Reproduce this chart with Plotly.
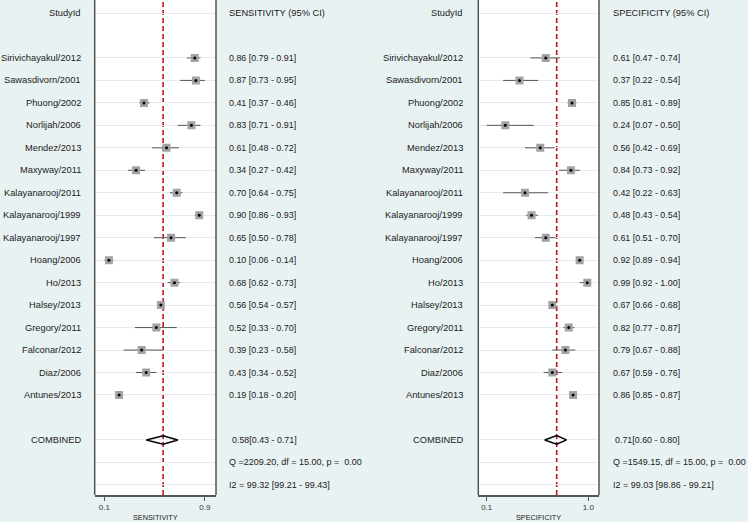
import plotly.graph_objects as go

studies = ["Sirivichayakul/2012", "Sawasdivorn/2001", "Phuong/2002", "Norlijah/2006",
           "Mendez/2013", "Maxyway/2011", "Kalayanarooj/2011", "Kalayanarooj/1999",
           "Kalayanarooj/1997", "Hoang/2006", "Ho/2013", "Halsey/2013", "Gregory/2011",
           "Falconar/2012", "Diaz/2006", "Antunes/2013"]

sens = [0.86, 0.87, 0.41, 0.83, 0.61, 0.34, 0.70, 0.90, 0.65, 0.10, 0.68, 0.56, 0.52, 0.39, 0.43, 0.19]
sens_lo = [0.79, 0.73, 0.37, 0.71, 0.48, 0.27, 0.64, 0.86, 0.50, 0.06, 0.62, 0.54, 0.33, 0.23, 0.34, 0.18]
sens_hi = [0.91, 0.95, 0.46, 0.91, 0.72, 0.42, 0.75, 0.93, 0.78, 0.14, 0.73, 0.57, 0.70, 0.58, 0.52, 0.20]

spec = [0.61, 0.37, 0.85, 0.24, 0.56, 0.84, 0.42, 0.48, 0.61, 0.92, 0.99, 0.67, 0.82, 0.79, 0.67, 0.86]
spec_lo = [0.47, 0.22, 0.81, 0.07, 0.42, 0.73, 0.22, 0.43, 0.51, 0.89, 0.92, 0.66, 0.77, 0.67, 0.59, 0.85]
spec_hi = [0.74, 0.54, 0.89, 0.50, 0.69, 0.92, 0.63, 0.54, 0.70, 0.94, 1.00, 0.68, 0.87, 0.88, 0.76, 0.87]

sens_comb = [0.58, 0.43, 0.71]
spec_comb = [0.71, 0.60, 0.80]
sens_q = "Q =2209.20, df = 15.00, p =\u00a0 0.00"
sens_i2 = "I2 = 99.32 [99.21 - 99.43]"
spec_q = "Q =1549.15, df = 15.00, p =\u00a0 0.00"
spec_i2 = "I2 = 99.03 [98.86 - 99.21]"

BG = "#e9f2f3"
W, H = 748, 522
FONT = "Liberation Sans, Arial, sans-serif"
TXT = "#1a1a1a"
FS = 9.3      # names / headers
FS_NUM = 8.9  # numeric estimate columns
FS_Q = 9.0    # heterogeneity lines

rows = list(range(2, 2 + len(studies)))
row_comb, row_q, row_i2 = 19, 20, 21

fig = go.Figure()

panels = [
    ("x", "y", sens, sens_lo, sens_hi, sens_comb),
    ("x2", "y", spec, spec_lo, spec_hi, spec_comb),
]
for xa, ya, est, lo, hi, comb in panels:
    fig.add_trace(go.Scatter(
        x=est, y=rows, xaxis=xa, yaxis=ya, mode="markers",
        error_x=dict(type="data", symmetric=False,
                     array=[h - e for h, e in zip(hi, est)],
                     arrayminus=[e - l for e, l in zip(est, lo)],
                     color="#555555", thickness=1, width=0),
        marker=dict(symbol="square", size=8, color="#a3a3a3", line=dict(width=0)),
        hoverinfo="skip"))
    fig.add_trace(go.Scatter(
        x=est, y=rows, xaxis=xa, yaxis=ya, mode="markers",
        marker=dict(symbol="circle", size=3, color="black"), hoverinfo="skip"))
    h = 0.19
    fig.add_trace(go.Scatter(
        x=[comb[1], comb[0], comb[2], comb[0], comb[1]],
        y=[row_comb, row_comb - h, row_comb, row_comb + h, row_comb],
        xaxis=xa, yaxis=ya, mode="lines", line=dict(color="black", width=1.5),
        hoverinfo="skip"))

shapes = []
for xa, comb in [("x", sens_comb), ("x2", spec_comb)]:
    shapes.append(dict(type="line", xref=xa, yref="y domain", x0=comb[0], x1=comb[0],
                       y0=0, y1=1, line=dict(color="#c4121f", width=1.6, dash="5px,3px"),
                       layer="below"))
    for xd in (0, 1):
        shapes.append(dict(type="line", xref=xa + " domain", yref="y domain", x0=xd, x1=xd,
                           y0=0, y1=1, line=dict(color="#555555", width=1.5), layer="above"))

annotations = []
def txt(x_px, row, text, anchor, size=FS):
    annotations.append(dict(x=x_px / W, xref="paper", y=row, yref="y", text=text,
                            xanchor=anchor, yanchor="middle", showarrow=False,
                            borderpad=0, borderwidth=0,
                            font=dict(family=FONT, size=size, color=TXT)))

# headers
txt(80.5, 0, "StudyId", "right")
txt(462.5, 0, "StudyId", "right")
txt(229, 0, "SENSITIVITY (95% CI)", "left")
txt(613, 0, "SPECIFICITY (95% CI)", "left")
for r, s, e, l, hh, e2, l2, h2 in zip(rows, studies, sens, sens_lo, sens_hi, spec, spec_lo, spec_hi):
    txt(80.5, r, s, "right")
    txt(462.5, r, s, "right")
    txt(229, r, f"{e:.2f} [{l:.2f} - {hh:.2f}]", "left", FS_NUM)
    txt(613, r, f"{e2:.2f} [{l2:.2f} - {h2:.2f}]", "left", FS_NUM)
txt(80.5, row_comb, "COMBINED", "right")
txt(462.5, row_comb, "COMBINED", "right")
txt(231.5, row_comb, f"{sens_comb[0]:.2f}[{sens_comb[1]:.2f} - {sens_comb[2]:.2f}]", "left", FS_NUM)
txt(615, row_comb, f"{spec_comb[0]:.2f}[{spec_comb[1]:.2f} - {spec_comb[2]:.2f}]", "left", FS_NUM)
txt(229, row_q, sens_q, "left", FS_Q)
txt(229, row_i2, sens_i2, "left", FS_Q)
txt(613, row_q, spec_q, "left", FS_Q)
txt(613, row_i2, spec_i2, "left", FS_Q)

for xa, title in [("x", "SENSITIVITY"), ("x2", "SPECIFICITY")]:
    annotations.append(dict(x=0.5, xref=xa + " domain", y=-(517.5 - 495) / 495, yref="paper",
                            text=title, xanchor="center", yanchor="middle", showarrow=False,
                            borderpad=0, borderwidth=0,
                            font=dict(family=FONT, size=7.3, color=TXT)))

def fmt_ticks(lo, hi):
    vals = [min(lo), max(hi)]
    return vals, [f"{v:.1f}" for v in vals]

sv, st = fmt_ticks(sens_lo, sens_hi)
pv, pt = fmt_ticks(spec_lo, spec_hi)

axis_common = dict(showgrid=False, zeroline=False, showline=True, linecolor="#555555",
                   linewidth=1.5, ticks="outside", ticklen=4, tickwidth=1, tickcolor="#555555",
                   tickfont=dict(family=FONT, size=8, color="#333333"), anchor="y")

grid_rows = [0] + rows + [row_comb, row_q, row_i2]
fig.update_layout(
    width=W, height=H, margin=dict(l=0, r=0, t=0, b=27, autoexpand=False),
    paper_bgcolor=BG, plot_bgcolor="white", showlegend=False,
    xaxis=dict(domain=[94.7 / W, 216 / W], range=[-0.026, 1.048], tickvals=sv, ticktext=st,
               **axis_common),
    xaxis2=dict(domain=[478.3 / W, 599 / W], range=[-0.007, 1.097], tickvals=pv, ticktext=pt,
                **axis_common),
    yaxis=dict(domain=[0, 1], range=[21.451, -0.5786], tickvals=grid_rows, showticklabels=False,
               ticks="", showgrid=True, gridcolor="#e4ecef", gridwidth=1, zeroline=False,
               showline=False),
    shapes=shapes, annotations=annotations,
)

fig.write_html("out.html", config={"displayModeBar": False},
               post_script=f"document.body.style.margin='0';document.body.style.background='{BG}';")
